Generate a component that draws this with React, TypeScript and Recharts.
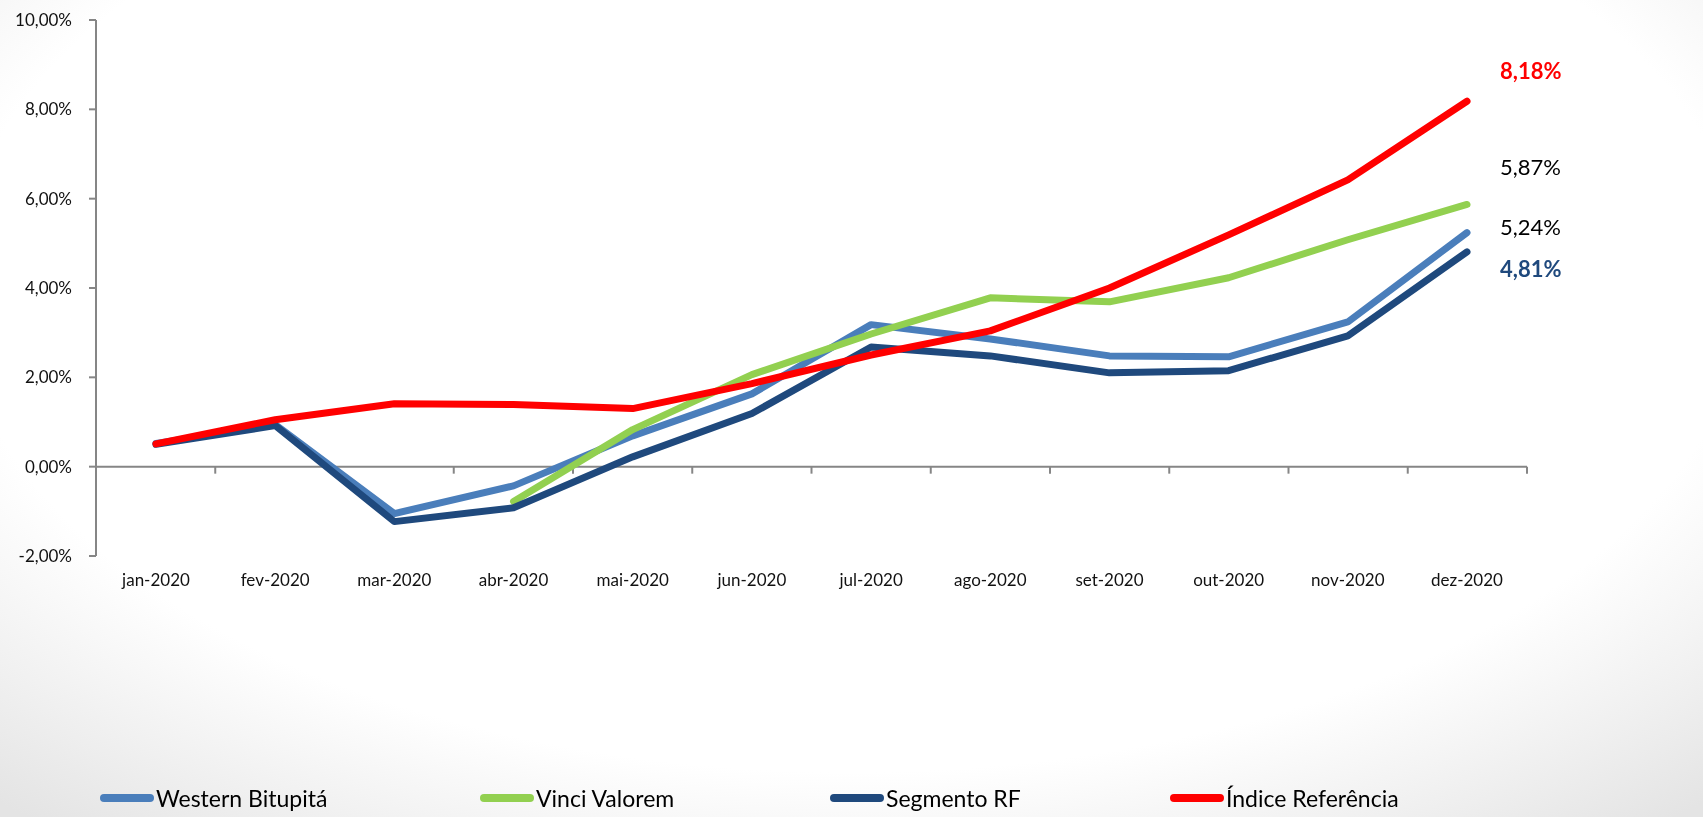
import { LineChart, Line, XAxis, YAxis, ReferenceLine, LabelList } from "recharts"

const months = ["jan-2020", "fev-2020", "mar-2020", "abr-2020", "mai-2020", "jun-2020", "jul-2020", "ago-2020", "set-2020", "out-2020", "nov-2020", "dez-2020"]

const western = [0.52, 0.94, -1.05, -0.43, 0.69, 1.63, 3.18, 2.86, 2.48, 2.46, 3.24, 5.24]
const vinci = [null, null, null, -0.78, 0.83, 2.06, 2.97, 3.78, 3.69, 4.23, 5.08, 5.87]
const segmento = [0.5, 0.92, -1.23, -0.92, 0.22, 1.19, 2.68, 2.48, 2.1, 2.15, 2.93, 4.81]
const indice = [0.51, 1.05, 1.41, 1.39, 1.3, 1.86, 2.5, 3.04, 4.0, 5.19, 6.42, 8.18]

const yTicks = [-2, 0, 2, 4, 6, 8, 10]

const data = months.map((m, i) => ({
    month: m,
    western: western[i],
    vinci: vinci[i],
    segmento: segmento[i],
    indice: indice[i],
}))

const series = [
    { key: "western", name: "Western Bitupitá", color: "#4A7EBB", labelColor: "#000", bold: false, dy: -3 },
    { key: "vinci", name: "Vinci Valorem", color: "#92D050", labelColor: "#000", bold: false, dy: -35 },
    { key: "segmento", name: "Segmento RF", color: "#1F497D", labelColor: "#1F497D", bold: true, dy: 20 },
    { key: "indice", name: "Índice Referência", color: "#FF0000", labelColor: "#FF0000", bold: true, dy: -28 },
]

const fmt = (v: number) => v.toFixed(2).replace(".", ",") + "%"

const FONT = "Lato, 'Open Sans', sans-serif"

function XTick({ x, y, payload }: any) {
    return (
        <text x={x} y={y + 22} textAnchor="middle" fontFamily={FONT} fontSize={17} fill="#111">
            {payload.value}
        </text>
    )
}

function ZeroAxis(props: any) {
    const { x1, y1, x2 } = props
    const step = (x2 - x1) / months.length
    const marks = []
    for (let i = 1; i <= months.length; i++) {
        const x = x1 + step * i
        marks.push(<line key={i} x1={x} x2={x} y1={y1} y2={y1 + 7} stroke="#868686" strokeWidth={2} />)
    }
    return (
        <g>
            <line x1={x1} x2={x2} y1={y1} y2={y1} stroke="#868686" strokeWidth={2} />
            {marks}
        </g>
    )
}

function endLabel(s: (typeof series)[number]) {
    return (props: any) => {
        const { x, y, index, value } = props
        if (index !== months.length - 1 || value == null) return null
        return (
            <text
                x={x + 33}
                y={y + s.dy}
                dominantBaseline="middle"
                fontFamily={FONT}
                fontSize={22}
                fontWeight={s.bold ? 700 : 400}
                fill={s.labelColor}
            >
                {fmt(value)}
            </text>
        )
    }
}

const legendLeft = [100, 480, 830, 1170]

function LegendRow() {
    return (
        <div style={{ position: "absolute", left: 0, top: 784, width: 1703, height: 30 }}>
            {series.map((s, i) => (
                <div
                    key={s.key}
                    style={{
                        position: "absolute",
                        left: legendLeft[i],
                        top: 0,
                        display: "flex",
                        alignItems: "center",
                        fontFamily: FONT,
                        fontSize: 23,
                        color: "#000",
                        whiteSpace: "nowrap",
                    }}
                >
                    <span style={{ display: "inline-block", width: 54, height: 8, borderRadius: 4, background: s.color, marginRight: 2 }} />
                    {s.name}
                </div>
            ))}
        </div>
    )
}

export default function App() {
    return (
        <div
            style={{
                position: "fixed",
                left: 0,
                top: 0,
                width: 1703,
                height: 817,
                background: "radial-gradient(ellipse 75% 85% at 50% 35%, #ffffff 70%, #e4e4e4 100%)",
            }}
        >
            <LineChart width={1703} height={817} data={data} margin={{ top: 20, right: 176, bottom: 231, left: 0 }}>
                <XAxis
                    dataKey="month"
                    height={30}
                    padding={{ left: 60, right: 60 }}
                    axisLine={false}
                    tickLine={false}
                    tick={<XTick />}
                    interval={0}
                />
                <YAxis
                    width={96}
                    domain={[-2, 10]}
                    ticks={yTicks}
                    tickFormatter={fmt}
                    stroke="#868686"
                    strokeWidth={2}
                    tickSize={7}
                    tickMargin={17}
                    tick={{ fill: "#111", fontFamily: FONT, fontSize: 17 }}
                    allowDataOverflow
                />
                <ReferenceLine y={0} shape={<ZeroAxis />} ifOverflow="visible" />
                {series.map((s) => (
                    <Line
                        key={s.key}
                        dataKey={s.key}
                        name={s.name}
                        stroke={s.color}
                        strokeWidth={7}
                        strokeLinecap="round"
                        strokeLinejoin="round"
                        dot={false}
                        activeDot={false}
                        isAnimationActive={false}
                    >
                        <LabelList dataKey={s.key} content={endLabel(s)} />
                    </Line>
                ))}
            </LineChart>
            <LegendRow />
        </div>
    )
}
